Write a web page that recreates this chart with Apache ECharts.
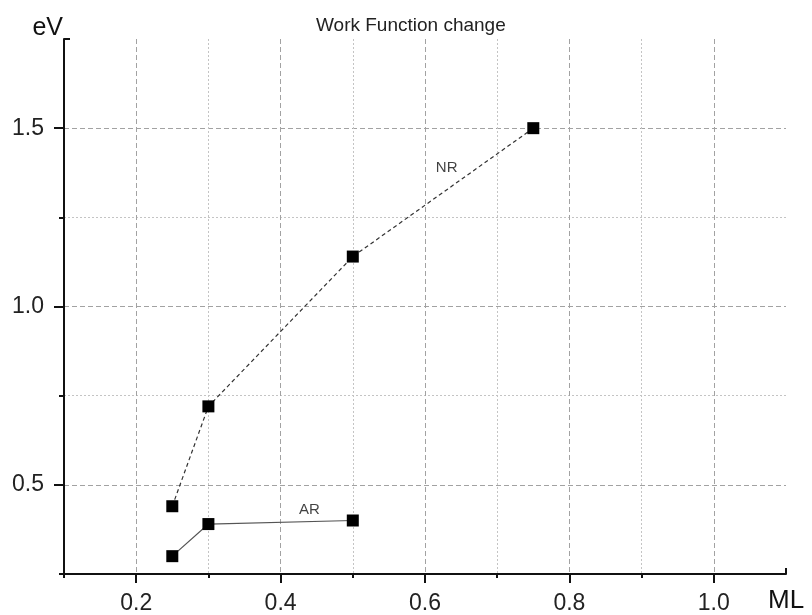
<!DOCTYPE html>
<html>
<head>
<meta charset="utf-8">
<style>
  html, body { margin: 0; padding: 0; background: #fff; }
  #chart { width: 812px; height: 615px; }
</style>
<script src="https://cdn.jsdelivr.net/npm/echarts@6/dist/echarts.min.js"></script>
</head>
<body>
<div id="chart"></div>
<script>
// Work function change (eV) versus coverage (ML)
const nrX = [0.25, 0.30, 0.50, 0.75];
const nrY = [0.44, 0.72, 1.14, 1.50];
const arX = [0.25, 0.30, 0.50];
const arY = [0.30, 0.39, 0.40];

// Series tags written inside the plot
const tagNames = ['NR', 'AR'];
const tagX = [0.63, 0.44];
const tagY = [1.39, 0.43];

// Axis ranges and tick values
const xRange = [0.1, 1.1];
const yRange = [0.25, 1.75];
const xMajor = [0.2, 0.4, 0.6, 0.8, 1.0];
const xMinor = [0.1, 0.3, 0.5, 0.7, 0.9];
const yMajor = [0.5, 1.0, 1.5];
const yMinor = [0.25, 0.75, 1.25];

const FONT = '"Liberation Sans", Arial, sans-serif';
const chart = echarts.init(document.getElementById('chart'), null, { renderer: 'canvas' });

const pairs = (xs, ys) => xs.map((x, i) => [x, ys[i]]);

const hiddenLine = { show: false };
const noLabel = { show: false };
const tickStyle = { color: '#111', width: 2 };
const minorGrid = { show: true, showMinLine: true, showMaxLine: true, lineStyle: { color: '#c4c4c4', type: [2, 2], width: 1 } };
const majorGrid = { show: true, showMinLine: true, showMaxLine: true, lineStyle: { color: '#a2a2a2', type: [5, 3], width: 1 } };

chart.setOption({
  backgroundColor: '#fff',
  animation: false,
  title: {
    text: 'Work Function change',
    left: 311,
    top: 11,
    textStyle: { fontFamily: FONT, fontSize: 19, fontWeight: 'normal', color: '#222' }
  },
  grid: { left: 64, right: 26, top: 39, bottom: 41, containLabel: false },
  xAxis: [
    {
      // minor dotted grid + short ticks
      type: 'value', min: xRange[0], max: xRange[1], interval: 0.1, position: 'bottom',
      name: 'ML', nameLocation: 'end', nameGap: -18,
      nameTextStyle: { fontFamily: FONT, fontSize: 26, color: '#111', align: 'left', verticalAlign: 'top', padding: [14, 0, 0, 0] },
      axisLine: { show: true, lineStyle: { color: '#111', width: 2 } },
      axisTick: { show: true, length: 4, customValues: xMinor, lineStyle: tickStyle },
      axisLabel: noLabel,
      splitLine: minorGrid
    },
    {
      // major dashed grid, long ticks and labels
      type: 'value', min: xRange[0], max: xRange[1], interval: 0.1, position: 'bottom',
      axisLine: hiddenLine,
      axisTick: { show: true, length: 9, customValues: xMajor, lineStyle: tickStyle },
      axisLabel: {
        show: true, customValues: xMajor, margin: 18,
        fontFamily: FONT, fontSize: 23, color: '#222',
        formatter: v => v.toFixed(1)
      },
      splitLine: majorGrid
    },
    {
      // inward end tick on the right
      type: 'value', min: xRange[0], max: xRange[1], interval: 0.1, position: 'bottom',
      axisLine: hiddenLine,
      axisTick: { show: true, inside: true, length: 6, customValues: [xRange[1]], lineStyle: tickStyle },
      axisLabel: noLabel,
      splitLine: { show: false }
    }
  ],
  yAxis: [
    {
      type: 'value', min: yRange[0], max: yRange[1], interval: 0.25, position: 'left',
      name: 'eV', nameLocation: 'end', nameGap: 11,
      nameTextStyle: { fontFamily: FONT, fontSize: 25, color: '#111', align: 'right', verticalAlign: 'middle', padding: [0, 1, 0, 0] },
      axisLine: { show: true, lineStyle: { color: '#111', width: 2 } },
      axisTick: { show: true, length: 5, customValues: yMinor, lineStyle: tickStyle },
      axisLabel: noLabel,
      splitLine: minorGrid
    },
    {
      type: 'value', min: yRange[0], max: yRange[1], interval: 0.25, position: 'left',
      axisLine: hiddenLine,
      axisTick: { show: true, length: 10, customValues: yMajor, lineStyle: tickStyle },
      axisLabel: {
        show: true, customValues: yMajor, margin: 20,
        fontFamily: FONT, fontSize: 23, color: '#222',
        formatter: v => v.toFixed(1)
      },
      splitLine: majorGrid
    },
    {
      // inward end tick at the top
      type: 'value', min: yRange[0], max: yRange[1], interval: 0.25, position: 'left',
      axisLine: hiddenLine,
      axisTick: { show: true, inside: true, length: 6, customValues: [yRange[1]], lineStyle: tickStyle },
      axisLabel: noLabel,
      splitLine: { show: false }
    }
  ],
  series: [
    {
      name: 'NR', type: 'line', xAxisIndex: 0, yAxisIndex: 0,
      data: pairs(nrX, nrY),
      symbol: 'rect', symbolSize: 12,
      itemStyle: { color: '#000' },
      lineStyle: { color: '#333', width: 1.2, type: [4, 3] },
      z: 5
    },
    {
      name: 'AR', type: 'line', xAxisIndex: 0, yAxisIndex: 0,
      data: pairs(arX, arY),
      symbol: 'rect', symbolSize: 12,
      itemStyle: { color: '#000' },
      lineStyle: { color: '#555', width: 1.2, type: 'solid' },
      z: 5
    },
    {
      name: 'tags', type: 'scatter', xAxisIndex: 0, yAxisIndex: 0,
      data: tagX.map((x, i) => ({ value: [x, tagY[i]], name: tagNames[i] })),
      symbolSize: 0,
      label: {
        show: true, position: 'inside', formatter: p => p.name,
        fontFamily: FONT, fontSize: 15, color: '#111'
      },
      silent: true, z: 6
    }
  ]
});
</script>
</body>
</html>
